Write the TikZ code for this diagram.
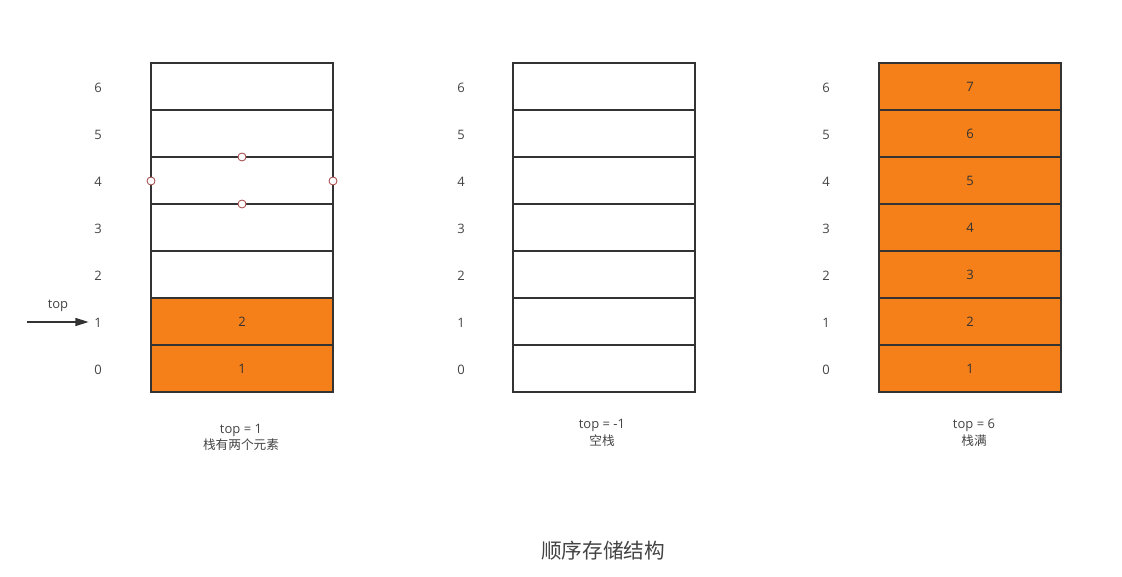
\documentclass[tikz,border=0pt]{standalone}
\usepackage{fontspec}
\setmainfont{Open Sans}
\newfontfamily\cjk{Noto Sans CJK SC}
\usetikzlibrary{arrows.meta}
\definecolor{cellorange}{HTML}{F58019}
\definecolor{linegray}{HTML}{333333}
\definecolor{txtgray}{HTML}{444444}
\definecolor{handlered}{HTML}{A04040}
\begin{document}
\begin{tikzpicture}[x=0.75pt,y=-0.75pt,
  cell/.style={draw=linegray,line width=1.5pt,minimum width=182*0.75pt,minimum height=47*0.75pt,inner sep=0pt,font=\fontsize{9.75}{11}\selectfont,text=txtgray},
  full/.style={cell,fill=cellorange,text=linegray},
  idx/.style={inner sep=1pt,font=\fontsize{9.75}{11}\selectfont,text=txtgray},
  captext/.style={inner sep=0pt,font=\fontsize{9.75}{11}\selectfont,text=txtgray},
  capcjk/.style={inner sep=0pt,font=\cjk\fontsize{9.5}{11}\selectfont,text=txtgray},
  handle/.style={circle,draw=handlered,fill=white,line width=0.6pt,minimum size=6pt,inner sep=0pt}]
\useasboundingbox (0,0) rectangle (1122,577);
% stack 1
\foreach \k/\t in {0/1,1/2} {
  \node[full] (a\k) at (242,{369-47*\k}) {\t};
}
\foreach \k in {2,...,6} {
  \node[cell] (a\k) at (242,{369-47*\k}) {};
}
% stack 2
\foreach \k in {0,...,6} {
  \node[cell] (b\k) at (604,{369-47*\k}) {};
}
% stack 3
\foreach \k in {0,...,6} {
  \pgfmathtruncatemacro{\v}{\k+1}
  \node[full] (c\k) at (970,{369-47*\k}) {\v};
}
% index labels
\foreach \k in {0,...,6} {
  \node[idx] (la\k) at (98,{370-47*\k}) {\k};
  \node[idx] (lb\k) at (461,{370-47*\k}) {\k};
  \node[idx] (lc\k) at (826,{370-47*\k}) {\k};
}
% top pointer
\coordinate (topstart) at (27,322);
\draw[linegray,line width=1.2pt,shorten >=3pt,-{Triangle[length=10pt,width=6pt]}] (topstart) -- (la1.west |- topstart);
\node[idx] (toplabel) at (58,306) {top};
% selection handles
\node[handle] (h1) at (242,157) {};
\node[handle] (h2) at (151,181) {};
\node[handle] (h3) at (333,181) {};
\node[handle] (h4) at (242,204) {};
% captions
\node[captext] (capa1) at (241,430) {top = 1};
\node[capcjk] (capa2) at (241,445) {栈有两个元素};
\node[captext] (capb1) at (602,425) {top = -1};
\node[capcjk] (capb2) at (602,441) {空栈};
\node[captext] (capc1) at (974,425) {top = 6};
\node[capcjk] (capc2) at (974,441) {栈满};
\node[font=\cjk\fontsize{15.5}{17}\selectfont,text=txtgray] (title) at (603,551) {顺序存储结构};
\end{tikzpicture}
\end{document}
